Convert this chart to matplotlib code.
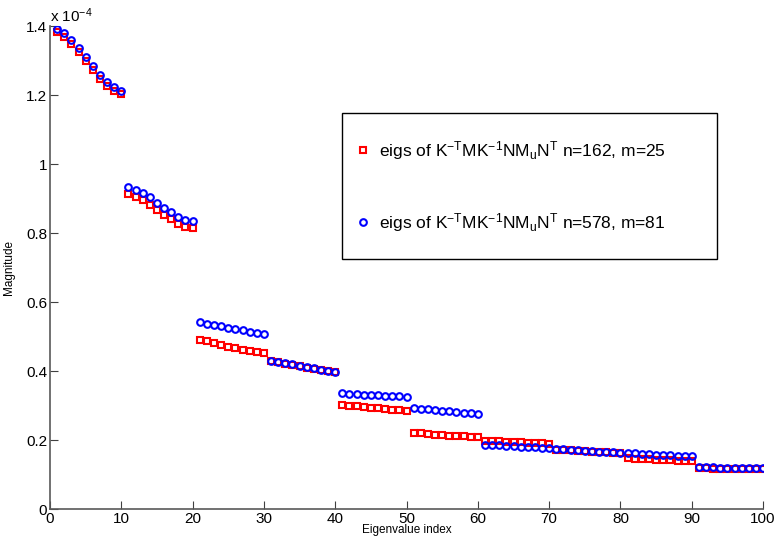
# Eigenvalue magnitudes for two mesh sizes, MATLAB-like look.
import numpy as np
import matplotlib
matplotlib.use("Agg")
import matplotlib.pyplot as plt
from matplotlib.patches import Rectangle
from matplotlib.ticker import FormatStrFormatter

plt.rcParams['font.family'] = ['Liberation Sans', 'DejaVu Sans']
plt.rcParams['mathtext.default'] = 'regular'

idx = np.arange(1, 101)

# magnitudes in units of 1e-4
small = [1.383, 1.370, 1.350, 1.325, 1.298, 1.272, 1.247, 1.228, 1.212, 1.203,
         0.913, 0.905, 0.895, 0.882, 0.866, 0.853, 0.840, 0.828, 0.818, 0.815,
         0.490, 0.486, 0.481, 0.476, 0.471, 0.466, 0.462, 0.458, 0.455, 0.452,
         0.428, 0.425, 0.421, 0.418, 0.414, 0.410, 0.406, 0.402, 0.399, 0.396,
         0.302, 0.300, 0.298, 0.296, 0.294, 0.292, 0.290, 0.288, 0.286, 0.284,
         0.221, 0.219, 0.218, 0.216, 0.215, 0.213, 0.212, 0.211, 0.209, 0.208,
         0.198, 0.197, 0.196, 0.195, 0.194, 0.193, 0.192, 0.191, 0.190, 0.189,
         0.172, 0.171, 0.170, 0.168, 0.167, 0.166, 0.165, 0.164, 0.162, 0.161,
         0.147, 0.146, 0.145, 0.144, 0.143, 0.142, 0.141, 0.140, 0.139, 0.138,
         0.118, 0.118, 0.117, 0.117, 0.117, 0.116, 0.116, 0.116, 0.115, 0.115]
large = [1.391, 1.380, 1.359, 1.336, 1.310, 1.284, 1.258, 1.238, 1.223, 1.212,
         0.933, 0.926, 0.916, 0.904, 0.888, 0.874, 0.860, 0.848, 0.838, 0.835,
         0.541, 0.538, 0.534, 0.530, 0.526, 0.522, 0.518, 0.514, 0.511, 0.508,
         0.430, 0.427, 0.423, 0.420, 0.416, 0.412, 0.408, 0.404, 0.401, 0.398,
         0.335, 0.334, 0.333, 0.332, 0.331, 0.330, 0.329, 0.328, 0.327, 0.325,
         0.293, 0.291, 0.289, 0.287, 0.285, 0.283, 0.281, 0.279, 0.277, 0.276,
         0.187, 0.186, 0.185, 0.184, 0.183, 0.181, 0.180, 0.179, 0.177, 0.176,
         0.174, 0.173, 0.172, 0.170, 0.169, 0.168, 0.166, 0.165, 0.164, 0.163,
         0.162, 0.161, 0.160, 0.159, 0.158, 0.157, 0.156, 0.155, 0.154, 0.153,
         0.122, 0.121, 0.121, 0.120, 0.120, 0.120, 0.119, 0.119, 0.118, 0.118]

lab1 = r'eigs of K$^{-T}$MK$^{-1}$NM$_u$N$^T$ n=162, m=25'
lab2 = r'eigs of K$^{-T}$MK$^{-1}$NM$_u$N$^T$ n=578, m=81'

fig = plt.figure(figsize=(7.76, 5.43), dpi=100)
ax = fig.add_axes([0.0644, 0.0626, 0.919, 0.889])

ax.plot(idx, small, 's', color='red', mfc='none', ms=4.0, mew=1.5, label=lab1)
ax.plot(idx, large, 'o', color='blue', mfc='none', ms=4.8, mew=1.5, label=lab2)

ax.set_xlim(0, 100)
ax.set_ylim(0, 1.4)
ax.set_xticks(np.arange(0, 101, 10))
ax.set_yticks(np.arange(0, 1.41, 0.2))
ax.yaxis.set_major_formatter(FormatStrFormatter('%g'))
ax.tick_params(direction='in', length=6, labelsize=11, colors='0.25',
               labelcolor='black', pad=2)
for s in ['top', 'right']:
    ax.spines[s].set_visible(False)
for s in ['left', 'bottom']:
    ax.spines[s].set_color('0.35')
    ax.spines[s].set_linewidth(1.2)

ax.set_xlabel('Eigenvalue index', fontsize=8.5, labelpad=-1)
ax.set_ylabel('Magnitude', fontsize=8.5, labelpad=8)
ax.text(0.0, 1.003, r'x 10$^{-4}$', transform=ax.transAxes, fontsize=11,
        va='bottom', ha='left')

# legend box drawn by hand, entries placed inside it
ax.add_patch(Rectangle((0.4095, 0.518), 0.5255, 0.302, transform=ax.transAxes,
                       fill=True, fc='white', ec='black', lw=1, zorder=3))
leg = ax.legend(loc='upper left', bbox_to_anchor=(0.432, 0.766), frameon=False,
                fontsize=12.5, labelspacing=2.83, handlelength=0.6,
                handletextpad=0.6, borderaxespad=0, borderpad=0)
leg.set_zorder(4)

fig.savefig('out.png', dpi=100)
